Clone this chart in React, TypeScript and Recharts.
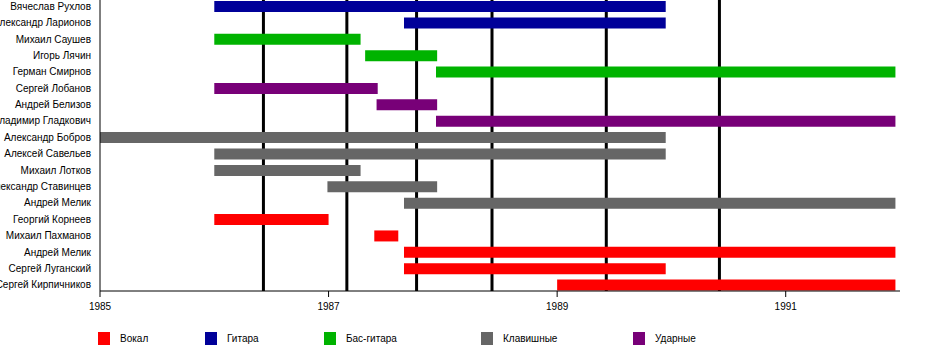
import { BarChart, Bar, XAxis, YAxis, Cell, CartesianGrid } from "recharts";

// band members, top to bottom
const members = [
  "Вячеслав Рухлов",
  "Александр Ларионов",
  "Михаил Саушев",
  "Игорь Лячин",
  "Герман Смирнов",
  "Сергей Лобанов",
  "Андрей Белизов",
  "Владимир Гладкович",
  "Александр Бобров",
  "Алексей Савельев",
  "Михаил Лотков",
  "Александр Ставинцев",
  "Андрей Мелик",
  "Георгий Корнеев",
  "Михаил Пахманов",
  "Андрей Мелик",
  "Сергей Луганский",
  "Сергей Кирпичников",
];

const memberRoles = [
  "Гитара", "Гитара",
  "Бас-гитара", "Бас-гитара", "Бас-гитара",
  "Ударные", "Ударные", "Ударные",
  "Клавишные", "Клавишные", "Клавишные", "Клавишные", "Клавишные",
  "Вокал", "Вокал", "Вокал", "Вокал", "Вокал",
];

const startYears = [
  1986.0, 1987.66, 1986.0, 1987.32, 1987.94, 1986.0, 1987.42, 1987.94, 1985.0,
  1986.0, 1986.0, 1986.99, 1987.66, 1986.0, 1987.4, 1987.66, 1987.66, 1989.0,
];

const endYears = [
  1989.95, 1989.95, 1987.28, 1987.95, 1991.96, 1987.43, 1987.95, 1991.96, 1989.95,
  1989.95, 1987.28, 1987.95, 1991.96, 1987.0, 1987.61, 1991.96, 1989.95, 1991.96,
];

// album releases (black vertical lines behind the bars)
const albumDates = [1986.43, 1987.16, 1987.77, 1988.43, 1989.43, 1990.42];

const yearTicks = [1985, 1987, 1989, 1991];

const roleNames = ["Вокал", "Гитара", "Бас-гитара", "Клавишные", "Ударные"];
const roleColors = ["#ff0000", "#000099", "#00b300", "#666666", "#780078"];

const colorOf = (role: string) => roleColors[roleNames.indexOf(role)];

const data = members.map((name, i) => ({
  id: String(i),
  name,
  role: memberRoles[i],
  span: [startYears[i], endYears[i]],
}));

// legend columns are not evenly spaced in the original
const legendLefts = [98, 205, 324, 481, 633];

const font = '"Liberation Sans", Arial, sans-serif';

function NameTick(props: any) {
  const { x, y, payload } = props;
  return (
    <text
      x={x - 1}
      y={y}
      dy="0.355em"
      textAnchor="end"
      fill="#000"
      fontSize={10}
      fontFamily={font}
    >
      {members[Number(payload.value)]}
    </text>
  );
}

export default function App() {
  return (
    <div
      style={{
        position: "absolute",
        left: 0,
        top: 0,
        width: 950,
        height: 350,
        background: "#fff",
        fontFamily: font,
        overflow: "hidden",
      }}
    >
      <BarChart
        width={950}
        height={350}
        data={data}
        layout="vertical"
        margin={{ top: 0, right: 50, bottom: 30, left: 0 }}
        barCategoryGap={0}
      >
        <CartesianGrid
          horizontal={false}
          stroke="#000"
          strokeWidth={3}
          verticalValues={albumDates}
        />
        <XAxis
          type="number"
          domain={[1985, 1992]}
          ticks={yearTicks}
          allowDataOverflow
          height={29}
          tickSize={6}
          tickMargin={6}
          stroke="#000"
          tick={{ fill: "#000", fontSize: 10, fontFamily: font }}
        />
        <YAxis
          type="category"
          dataKey="id"
          width={100}
          tickLine={false}
          stroke="#000"
          padding={{ top: -2, bottom: -2 }}
          interval={0}
          tick={<NameTick />}
        />
        <Bar dataKey="span" barSize={11} isAnimationActive={false}>
          {data.map((row) => (
            <Cell key={row.id} fill={colorOf(row.role)} />
          ))}
        </Bar>
      </BarChart>
      {roleNames.map((r, i) => (
        <div
          key={r}
          style={{
            position: "absolute",
            left: legendLefts[i],
            top: 332,
            display: "flex",
            alignItems: "center",
            fontSize: 10,
            color: "#000",
          }}
        >
          <span
            style={{
              width: 12,
              height: 13,
              background: roleColors[i],
              marginRight: 10,
              display: "inline-block",
            }}
          />
          <span>{r}</span>
        </div>
      ))}
    </div>
  );
}
